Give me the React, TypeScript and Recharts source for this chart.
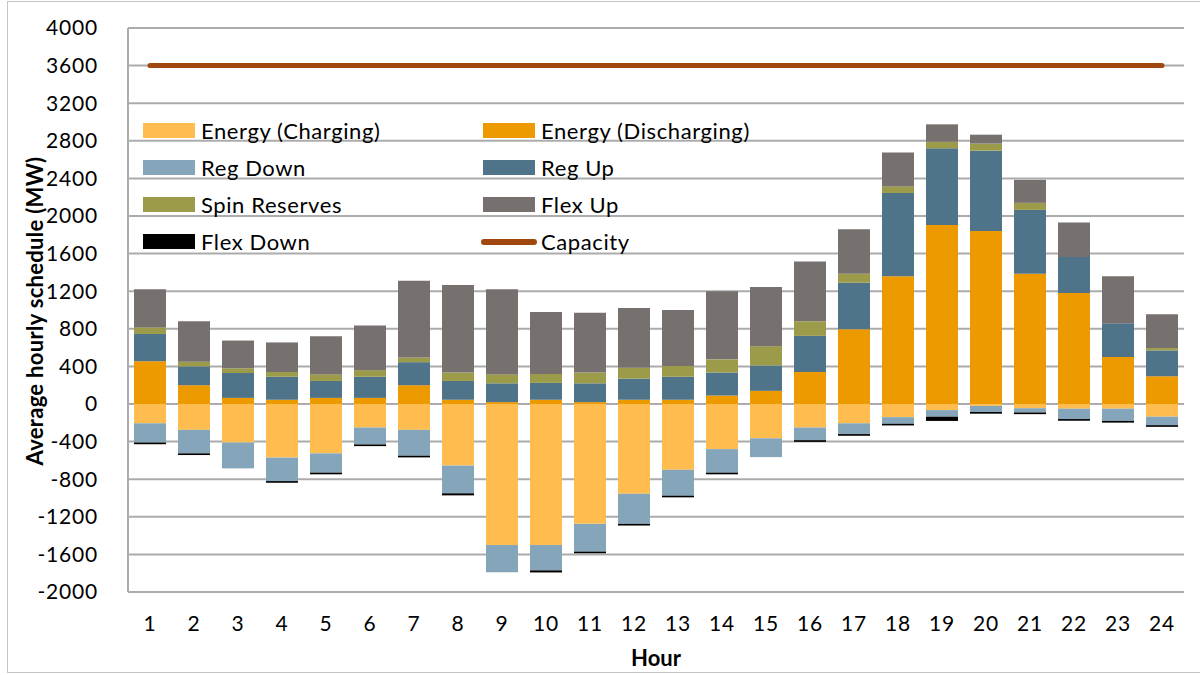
import {
  ComposedChart,
  Bar,
  Line,
  XAxis,
  YAxis,
  CartesianGrid,
} from "recharts";

const HOURS = [
  "1", "2", "3", "4", "5", "6", "7", "8", "9", "10", "11", "12",
  "13", "14", "15", "16", "17", "18", "19", "20", "21", "22", "23", "24",
];

// positive side of the stack (MW)
const DISCHARGING = [455, 200, 65, 45, 65, 65, 200, 45, 20, 45, 20, 45, 45, 90, 140, 340, 795, 1360, 1905, 1840, 1385, 1180, 500, 295];
const REG_UP = [290, 200, 265, 245, 180, 225, 245, 200, 200, 180, 200, 225, 245, 245, 270, 385, 495, 885, 815, 855, 680, 385, 360, 275];
const SPIN = [70, 50, 50, 50, 70, 70, 50, 90, 95, 95, 115, 115, 115, 140, 205, 155, 95, 70, 70, 75, 75, 0, 0, 25];
const FLEX_UP = [405, 430, 295, 315, 405, 475, 815, 930, 905, 660, 635, 635, 595, 725, 630, 635, 475, 360, 185, 95, 245, 365, 500, 360];

// negative side of the stack (MW)
const CHARGING = [-205, -275, -410, -570, -525, -250, -275, -655, -1500, -1500, -1275, -955, -700, -480, -365, -250, -205, -140, -65, -20, -45, -50, -50, -135];
const REG_DOWN = [-205, -250, -275, -250, -205, -180, -275, -295, -290, -270, -295, -320, -275, -250, -200, -135, -115, -70, -70, -65, -45, -110, -130, -90];
const FLEX_DOWN = [-18, -18, 0, -18, -18, -18, -18, -22, 0, -22, -18, -18, -18, -18, 0, -18, -18, -18, -45, -18, -18, -18, -18, -18];

const CAPACITY = [3600, 3600, 3600, 3600, 3600, 3600, 3600, 3600, 3600, 3600, 3600, 3600, 3600, 3600, 3600, 3600, 3600, 3600, 3600, 3600, 3600, 3600, 3600, 3600];

const Y_TICKS = [-2000, -1600, -1200, -800, -400, 0, 400, 800, 1200, 1600, 2000, 2400, 2800, 3200, 3600, 4000];

const data = HOURS.map((hour, i) => ({
  hour,
  charging: CHARGING[i],
  discharging: DISCHARGING[i],
  regDown: REG_DOWN[i],
  regUp: REG_UP[i],
  spin: SPIN[i],
  flexUp: FLEX_UP[i],
  flexDown: FLEX_DOWN[i],
  capacity: CAPACITY[i],
}));

const FONT = "Lato, 'Open Sans', sans-serif";
const GRID = "#acacac";

// legend order as in the original (two columns, row by row)
const LEGEND_ITEMS = [
  { name: "Energy (Charging)", color: "#ffbd4f", line: false },
  { name: "Energy (Discharging)", color: "#ed9a00", line: false },
  { name: "Reg Down", color: "#84a5ba", line: false },
  { name: "Reg Up", color: "#4f7389", line: false },
  { name: "Spin Reserves", color: "#9b9b4a", line: false },
  { name: "Flex Up", color: "#76706e", line: false },
  { name: "Flex Down", color: "#000000", line: false },
  { name: "Capacity", color: "#a0480f", line: true },
];

// drawn over the plot, like the Excel legend (no background)
function ChartLegend() {
  return (
    <div
      style={{
        position: "absolute",
        left: 143,
        top: 119,
        display: "grid",
        gridTemplateColumns: "340px 300px",
        rowGap: 14,
        fontFamily: FONT,
        fontSize: 22,
        color: "#000",
        pointerEvents: "none",
      }}
    >
      {LEGEND_ITEMS.map((it) => (
        <div key={it.name} style={{ display: "flex", alignItems: "center", height: 23 }}>
          {it.line ? (
            <span
              style={{
                width: 56,
                height: 6,
                borderRadius: 3,
                background: it.color,
                marginRight: 4,
                marginLeft: -2,
              }}
            />
          ) : (
            <span style={{ width: 52, height: 15, background: it.color, marginRight: 6 }} />
          )}
          <span style={{ letterSpacing: 0.6 }}>{it.name}</span>
        </div>
      ))}
    </div>
  );
}

function YTitle() {
  return (
    <text
      x={34}
      y={311}
      transform="rotate(-90 34 311)"
      textAnchor="middle"
      dominantBaseline="central"
      style={{ fontFamily: FONT, fontSize: 22, fontWeight: 700, fill: "#000", letterSpacing: 0.3 }}
    >
      Average hourly schedule (MW)
    </text>
  );
}

export default function App() {
  const tickStyle = { fill: "#000", fontSize: 21, fontFamily: FONT, letterSpacing: 0.8 };
  return (
    <div style={{ position: "fixed", left: 0, top: 0, width: 1200, height: 675, background: "#fff" }}>
      <style>{`body{margin:0}`}</style>
      <div
        style={{
          position: "absolute",
          left: 7,
          top: 1,
          width: 1200,
          height: 672,
          border: "1.5px solid #c4c4c4",
          boxSizing: "border-box",
        }}
      />
      <ComposedChart
        width={1200}
        height={675}
        data={data}
        stackOffset="sign"
        barSize={32}
        margin={{ top: 28, right: 16, bottom: 45, left: 8 }}
      >
        <CartesianGrid horizontal vertical={false} stroke={GRID} strokeWidth={2} />
        <XAxis
          dataKey="hour"
          tick={tickStyle}
          tickLine={false}
          axisLine={{ stroke: GRID, strokeWidth: 2 }}
          tickMargin={18}
          height={38}
          interval={0}
          label={{
            value: "Hour",
            position: "insideBottom",
            offset: -36,
            style: { fontFamily: FONT, fontSize: 22, fontWeight: 700, fill: "#000" },
          }}
        />
        <YAxis
          domain={[-2000, 4000]}
          ticks={Y_TICKS}
          tick={tickStyle}
          tickLine={false}
          axisLine={{ stroke: GRID, strokeWidth: 2 }}
          tickMargin={24}
          width={120}
          interval={0}
          label={<YTitle />}
        />
        <YAxis
          yAxisId="frame"
          orientation="right"
          domain={[-2000, 4000]}
          tick={false}
          tickLine={false}
          axisLine={{ stroke: GRID, strokeWidth: 2 }}
          width={0}
        />
        <Bar dataKey="charging" name="Energy (Charging)" stackId="s" fill="#ffbd4f" isAnimationActive={false} />
        <Bar dataKey="discharging" name="Energy (Discharging)" stackId="s" fill="#ed9a00" isAnimationActive={false} />
        <Bar dataKey="regDown" name="Reg Down" stackId="s" fill="#84a5ba" isAnimationActive={false} />
        <Bar dataKey="regUp" name="Reg Up" stackId="s" fill="#4f7389" isAnimationActive={false} />
        <Bar dataKey="spin" name="Spin Reserves" stackId="s" fill="#9b9b4a" isAnimationActive={false} />
        <Bar dataKey="flexUp" name="Flex Up" stackId="s" fill="#76706e" isAnimationActive={false} />
        <Bar dataKey="flexDown" name="Flex Down" stackId="s" fill="#000000" isAnimationActive={false} />
        <Line
          dataKey="capacity"
          name="Capacity"
          type="linear"
          stroke="#a0480f"
          strokeWidth={5}
          strokeLinecap="round"
          dot={false}
          activeDot={false}
          isAnimationActive={false}
        />
      </ComposedChart>
      <ChartLegend />
    </div>
  );
}
